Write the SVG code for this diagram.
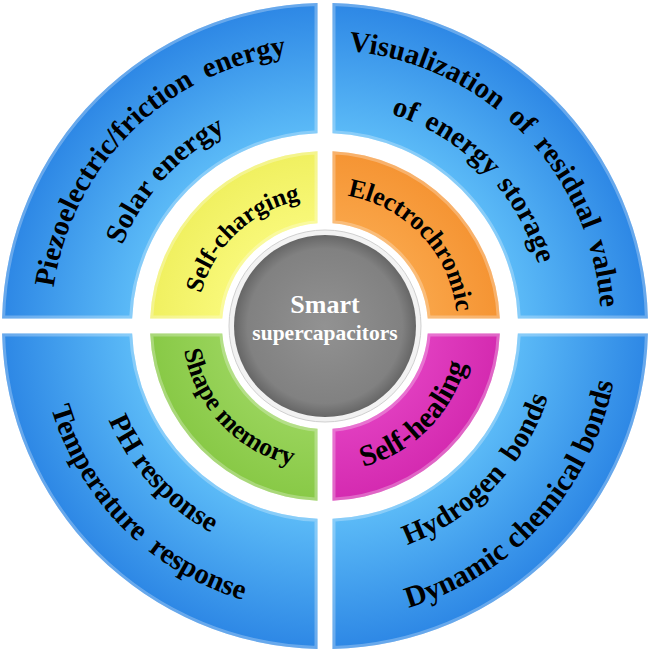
<svg xmlns="http://www.w3.org/2000/svg" width="650" height="653" viewBox="0 0 650 653">
<style>
.t{font-family:"Liberation Serif","Times New Roman",serif;font-weight:bold;fill:#000}
.o{font-size:29px}
.i{font-size:26px}
.rim{fill:none;stroke:#ffffff;stroke-opacity:0.28;stroke-width:6}
</style>
<defs>
<radialGradient id="gBlue" gradientUnits="userSpaceOnUse" cx="325" cy="326" r="323">
<stop offset="0.6" stop-color="#5BBAF7"/>
<stop offset="1" stop-color="#2D87E5"/>
</radialGradient>
<radialGradient id="gGray" cx="0.5" cy="0.5" r="0.5">
<stop offset="0" stop-color="#929292"/>
<stop offset="0.85" stop-color="#818181"/>
<stop offset="1" stop-color="#666666"/>
</radialGradient>
<radialGradient id="gY" gradientUnits="userSpaceOnUse" cx="325" cy="326" r="175"><stop offset="0.6" stop-color="#F8F878"/><stop offset="1" stop-color="#F0F060"/></radialGradient>
<radialGradient id="gO" gradientUnits="userSpaceOnUse" cx="325" cy="326" r="175"><stop offset="0.6" stop-color="#F9A447"/><stop offset="1" stop-color="#F59433"/></radialGradient>
<radialGradient id="gG" gradientUnits="userSpaceOnUse" cx="325" cy="326" r="175"><stop offset="0.6" stop-color="#98D35A"/><stop offset="1" stop-color="#88C946"/></radialGradient>
<radialGradient id="gM" gradientUnits="userSpaceOnUse" cx="325" cy="326" r="175"><stop offset="0.6" stop-color="#E03DBF"/><stop offset="1" stop-color="#D42AB0"/></radialGradient>
<path id="bTL" d="M317.5,3.09 A323,323 0 0 0 2.09,318.5 L132.15,318.5 A193,193 0 0 1 317.5,133.15 Z"/>
<path id="bTR" d="M332.5,3.09 A323,323 0 0 1 647.91,318.5 L517.85,318.5 A193,193 0 0 0 332.5,133.15 Z"/>
<path id="bBL" d="M317.5,648.91 A323,323 0 0 1 2.09,333.5 L132.15,333.5 A193,193 0 0 0 317.5,518.85 Z"/>
<path id="bBR" d="M332.5,648.91 A323,323 0 0 0 647.91,333.5 L517.85,333.5 A193,193 0 0 1 332.5,518.85 Z"/>
<path id="cTL" d="M317.5,151.16 A175,175 0 0 0 150.16,318.5 L222.27,318.5 A103,103 0 0 1 317.5,223.27 Z"/>
<path id="cTR" d="M332.5,151.16 A175,175 0 0 1 499.84,318.5 L427.73,318.5 A103,103 0 0 0 332.5,223.27 Z"/>
<path id="cBL" d="M317.5,500.84 A175,175 0 0 1 150.16,333.5 L222.27,333.5 A103,103 0 0 0 317.5,428.73 Z"/>
<path id="cBR" d="M332.5,500.84 A175,175 0 0 0 499.84,333.5 L427.73,333.5 A103,103 0 0 1 332.5,428.73 Z"/>
<clipPath id="kbTL"><use href="#bTL"/></clipPath>
<clipPath id="kbTR"><use href="#bTR"/></clipPath>
<clipPath id="kbBL"><use href="#bBL"/></clipPath>
<clipPath id="kbBR"><use href="#bBR"/></clipPath>
<clipPath id="kcTL"><use href="#cTL"/></clipPath>
<clipPath id="kcTR"><use href="#cTR"/></clipPath>
<clipPath id="kcBL"><use href="#cBL"/></clipPath>
<clipPath id="kcBR"><use href="#cBR"/></clipPath>
<path id="p1" d="M51,326 A274,274 0 0 1 599,326"/>
<path id="p2" d="M107,326 A218,218 0 0 1 543,326"/>
<path id="p3" d="M197,326 A128,128 0 0 1 453,326"/>
<path id="p4" d="M193,326 A132,132 0 0 1 457,326"/>
<path id="p5" d="M49,326 A276,276 0 0 1 601,326"/>
<path id="p6" d="M103,326 A222,222 0 0 1 547,326"/>
<path id="p7" d="M182,326 A143,143 0 0 0 468,326"/>
<path id="p8" d="M89,326 A236,236 0 0 0 561,326"/>
<path id="p9" d="M39,326 A286,286 0 0 0 611,326"/>
<path id="p10" d="M179,326 A146,146 0 0 0 471,326"/>
<path id="p11" d="M91,326 A234,234 0 0 0 559,326"/>
<path id="p12" d="M31,326 A294,294 0 0 0 619,326"/>
</defs>
<rect width="650" height="653" fill="#ffffff"/>

<g id="outer-top-left">
<use href="#bTL" fill="url(#gBlue)"/>
<use href="#bTL" class="rim" clip-path="url(#kbTL)"/>
<text class="t o" style="word-spacing:6px"><textPath href="#p1" startOffset="25%" text-anchor="middle">Piezoelectric/friction energy</textPath></text>
<text class="t o"><textPath href="#p2" startOffset="23.5%" text-anchor="middle">Solar energy</textPath></text>
</g>
<g id="outer-top-right">
<use href="#bTR" fill="url(#gBlue)"/>
<use href="#bTR" class="rim" clip-path="url(#kbTR)"/>
<text class="t o" style="word-spacing:6px"><textPath href="#p5" startOffset="75.3%" text-anchor="middle">Visualization of residual value</textPath></text>
<text class="t o" style="word-spacing:3px"><textPath href="#p6" startOffset="75.3%" text-anchor="middle">of energy storage</textPath></text>
</g>
<g id="outer-bottom-left">
<use href="#bBL" fill="url(#gBlue)"/>
<use href="#bBL" class="rim" clip-path="url(#kbBL)"/>
<text class="t o"><textPath href="#p8" startOffset="23.5%" text-anchor="middle">PH response</textPath></text>
<text class="t o" style="word-spacing:6px"><textPath href="#p9" startOffset="25%" text-anchor="middle">Temperature response</textPath></text>
</g>
<g id="outer-bottom-right">
<use href="#bBR" fill="url(#gBlue)"/>
<use href="#bBR" class="rim" clip-path="url(#kbBR)"/>
<text class="t o" style="word-spacing:6px"><textPath href="#p11" startOffset="75.8%" text-anchor="middle">Hydrogen bonds</textPath></text>
<text class="t o" style="font-size:30px"><textPath href="#p12" startOffset="76.5%" text-anchor="middle">Dynamic chemical bonds</textPath></text>
</g>

<g id="self-charging">
<use href="#cTL" fill="url(#gY)"/>
<use href="#cTL" class="rim" clip-path="url(#kcTL)"/>
<text class="t i" style="font-size:25px"><textPath href="#p3" startOffset="26%" text-anchor="middle">Self-charging</textPath></text>
</g>
<g id="electrochromic">
<use href="#cTR" fill="url(#gO)"/>
<use href="#cTR" class="rim" clip-path="url(#kcTR)"/>
<text class="t i"><textPath href="#p4" startOffset="76%" text-anchor="middle">Electrochromic</textPath></text>
</g>
<g id="shape-memory">
<use href="#cBL" fill="url(#gG)"/>
<use href="#cBL" class="rim" clip-path="url(#kcBL)"/>
<text class="t i"><textPath href="#p7" startOffset="24%" text-anchor="middle">Shape memory</textPath></text>
</g>
<g id="self-healing">
<use href="#cBR" fill="url(#gM)"/>
<use href="#cBR" class="rim" clip-path="url(#kcBR)"/>
<text class="t i" style="font-size:30px"><textPath href="#p10" startOffset="75%" text-anchor="middle">Self-healing</textPath></text>
</g>

<g id="center">
<circle cx="325" cy="326" r="96" fill="#F2F2F2" stroke="#D0D0D0" stroke-width="1"/>
<circle cx="325" cy="326" r="91" fill="url(#gGray)"/>
<text class="t" x="325" y="313" text-anchor="middle" style="font-size:26px;fill:#FFFFFF">Smart</text>
<text class="t" x="325" y="340" text-anchor="middle" style="font-size:21.5px;fill:#FFFFFF">supercapacitors</text>
</g>
</svg>
